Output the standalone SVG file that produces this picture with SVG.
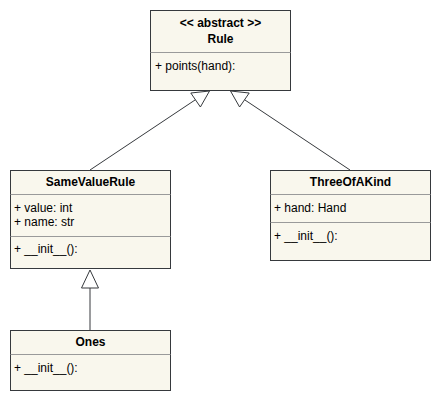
<svg xmlns="http://www.w3.org/2000/svg" width="441" height="401" viewBox="0 0 441 401">
<style>
.box{fill:#f9f7ed;stroke:#36393d;stroke-width:1}
.sep{stroke:#9a9a9a;stroke-width:1}
.t{font-family:"Liberation Sans",Arial,Helvetica,sans-serif;font-size:12px;fill:#000}
.b{font-weight:bold;text-anchor:middle}
.edge{stroke:#36393d;stroke-width:1;fill:none}
.head{fill:#ffffff;stroke:#36393d;stroke-width:1}
</style>
<rect width="441" height="401" fill="#ffffff"/>
<g id="connectors">
<line class="edge" x1="90" y1="170" x2="196.7" y2="98.9"/>
<polygon class="head" points="209.5,91 190.8,93 200.4,107"/>
<line class="edge" x1="350" y1="170" x2="243.3" y2="98.9"/>
<polygon class="head" points="230.5,91 249.2,93 239.6,107"/>
<line class="edge" x1="90" y1="330" x2="90" y2="288"/>
<polygon class="head" points="90,270 81.5,288 98.5,288"/>
</g>
<g id="Rule">
<rect class="box" x="150.5" y="10.5" width="140" height="80"/>
<line class="sep" x1="150.5" y1="52.5" x2="290.5" y2="52.5"/>
<text class="t b" x="220.5" y="27">&lt;&lt; abstract &gt;&gt;</text>
<text class="t b" x="220.5" y="43">Rule</text>
<text class="t" x="155" y="70">+ points(hand):</text>
</g>
<g id="SameValueRule">
<rect class="box" x="10.5" y="170.5" width="160" height="98"/>
<line class="sep" x1="10.5" y1="194.5" x2="170.5" y2="194.5"/>
<line class="sep" x1="10.5" y1="236.5" x2="170.5" y2="236.5"/>
<text class="t b" x="90.5" y="186">SameValueRule</text>
<text class="t" x="14" y="212">+ value: int</text>
<text class="t" x="14" y="226">+ name: str</text>
<text class="t" x="14" y="253">+ __init__():</text>
</g>
<g id="ThreeOfAKind">
<rect class="box" x="270.5" y="170.5" width="160" height="90"/>
<line class="sep" x1="270.5" y1="194.5" x2="430.5" y2="194.5"/>
<line class="sep" x1="270.5" y1="222.5" x2="430.5" y2="222.5"/>
<text class="t b" x="350.5" y="186">ThreeOfAKind</text>
<text class="t" x="274" y="212">+ hand: Hand</text>
<text class="t" x="274" y="240">+ __init__():</text>
</g>
<g id="Ones">
<rect class="box" x="10.5" y="330.5" width="160" height="60"/>
<line class="sep" x1="10.5" y1="354.5" x2="170.5" y2="354.5"/>
<text class="t b" x="90.5" y="346">Ones</text>
<text class="t" x="14" y="372">+ __init__():</text>
</g>
</svg>
